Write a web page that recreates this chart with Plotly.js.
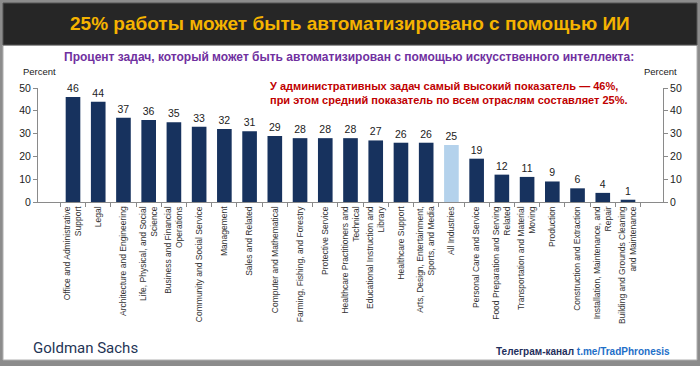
<!DOCTYPE html>
<html>
<head>
<meta charset="utf-8">
<script src="https://cdn.plot.ly/plotly-3.0.1.min.js"></script>
<style>html,body{margin:0;padding:0;background:#8c8c8c;}#chart{width:700px;height:366px;}</style>
</head>
<body>
<div id="chart"></div>
<script>
// ---- data ----
const categories = [
  "Office and Administrative<br>Support",
  "Legal",
  "Architecture and Engineering",
  "Life, Physical, and Social<br>Science",
  "Business and Financial<br>Operations",
  "Community and Social Service",
  "Management",
  "Sales and Related",
  "Computer and Mathematical",
  "Farming, Fishing, and Forestry",
  "Protective Service",
  "Healthcare Practitioners and<br>Technical",
  "Educational Instruction and<br>Library",
  "Healthcare Support",
  "Arts, Design, Entertainment,<br>Sports, and Media",
  "All Industries",
  "Personal Care and Service",
  "Food Preparation and Serving<br>Related",
  "Transportation and Material<br>Moving",
  "Production",
  "Construction and Extraction",
  "Installation, Maintenance, and<br>Repair",
  "Building and Grounds Cleaning<br>and Maintenance"
];
const values = [46, 44, 37, 36, 35, 33, 32, 31, 29, 28, 28, 28, 27, 26, 26, 25, 19, 12, 11, 9, 6, 4, 1];
const highlightCategory = "All Industries";
const yTicks = [0, 10, 20, 30, 40, 50];

const titleText = "25% работы может быть автоматизировано с помощью ИИ";
const subtitleText = "Процент задач, который может быть автоматизирован с помощью искусственного интеллекта:";
const noteLines = ["У административных задач самый высокий показатель — 46%,",
                   "при этом средний показатель по всем отраслям составляет 25%."];
const unitLabel = "Percent";
const sourceText = "Goldman Sachs";
const channelText = "Телеграм-канал";
const channelLink = "t.me/TradPhronesis";

// ---- layout helpers (pixel -> paper) ----
const W = 700, H = 366;
const M = {l: 38, r: 37, t: 88, b: 164};
const pw = W - M.l - M.r, ph = H - M.t - M.b;
const px = x => (x - M.l) / pw;
const py = y => (H - M.b - y) / ph;

const navy = "#17325e", light = "#b4d2ec";
const colors = categories.map(c => c === highlightCategory ? light : navy);
const sans = "Liberation Sans, Arial, sans-serif";

const bars = {
  type: "bar", x: categories, y: values,
  marker: {color: colors, line: {width: 0}},
  width: 0.58,
  text: values.map(String), textposition: "outside",
  textfont: {family: sans, size: 10.5, color: "#222"},
  cliponaxis: false, hoverinfo: "skip"
};
const ghost = {
  type: "scatter", mode: "markers", x: categories, y: values, yaxis: "y2",
  marker: {opacity: 0}, hoverinfo: "skip", showlegend: false
};

const axisFont = {family: sans, size: 10.5, color: "#222"};
const yCommon = {
  range: [0, 50], tickvals: yTicks, showgrid: false, zeroline: false,
  showline: true, linecolor: "#8a8a8a", linewidth: 1,
  ticks: "outside", ticklen: 4, tickcolor: "#8a8a8a", tickfont: axisFont, fixedrange: true
};

const shapes = [
  {type: "rect", xref: "paper", yref: "paper", layer: "below",
   x0: px(3), x1: px(697), y0: py(45), y1: py(360), fillcolor: "#ffffff", line: {color: "#b0b0b0", width: 1}},
  {type: "rect", xref: "paper", yref: "paper", layer: "below",
   x0: px(3), x1: px(697), y0: py(3), y1: py(45), fillcolor: "#262626", line: {color: "#555", width: 1}}
];

const annotations = [
  {xref: "paper", yref: "paper", x: px(350), y: py(23), xanchor: "center", yanchor: "middle", showarrow: false,
   text: "<b>" + titleText + "</b>", font: {family: sans, size: 19, color: "#f5b300"}},
  {xref: "paper", yref: "paper", x: px(349), y: py(57), xanchor: "center", yanchor: "middle", showarrow: false,
   text: "<b>" + subtitleText + "</b>", font: {family: sans, size: 12, color: "#7030a0"}},
  {xref: "paper", yref: "paper", x: px(39), y: py(71), xanchor: "center", yanchor: "middle", showarrow: false,
   text: unitLabel, font: {family: sans, size: 9.5, color: "#222"}},
  {xref: "paper", yref: "paper", x: px(660), y: py(71), xanchor: "center", yanchor: "middle", showarrow: false,
   text: unitLabel, font: {family: sans, size: 9.5, color: "#222"}},
  {xref: "paper", yref: "paper", x: px(268), y: py(92.5), xanchor: "left", yanchor: "middle", align: "left", showarrow: false,
   text: "<b>" + noteLines.join("<br>") + "</b>", font: {family: sans, size: 11, color: "#c00000"}},
  {xref: "paper", yref: "paper", x: px(31), y: py(348), xanchor: "left", yanchor: "middle", showarrow: false,
   text: sourceText, font: {family: "Roboto, " + sans, size: 15, weight: 400, color: "#1f3556"}},
  {xref: "paper", yref: "paper", x: px(672), y: py(351), xanchor: "right", yanchor: "middle", showarrow: false,
   text: "<b>" + channelText + " <span style='color:#1e6fc8'>" + channelLink + "</span></b>",
   font: {family: sans, size: 10, color: "#1f2f5c"}}
];

const layout = {
  width: W, height: H,
  margin: {l: M.l, r: M.r, t: M.t, b: M.b, pad: 0},
  paper_bgcolor: "#8c8c8c", plot_bgcolor: "rgba(0,0,0,0)",
  showlegend: false, bargap: 0.42,
  xaxis: {
    type: "category", tickangle: -90, showgrid: false, zeroline: false,
    showline: true, linecolor: "#8a8a8a", linewidth: 1,
    ticks: "outside", tickson: "boundaries", ticklen: 4, tickcolor: "#8a8a8a",
    tickfont: {family: sans, size: 8.5, color: "#333"},
    fixedrange: true
  },
  yaxis: Object.assign({side: "left"}, yCommon),
  yaxis2: Object.assign({side: "right", overlaying: "y"}, yCommon),
  shapes: shapes,
  annotations: annotations
};

Plotly.newPlot("chart", [bars, ghost], layout, {displayModeBar: false, staticPlot: true});
</script>
</body>
</html>
